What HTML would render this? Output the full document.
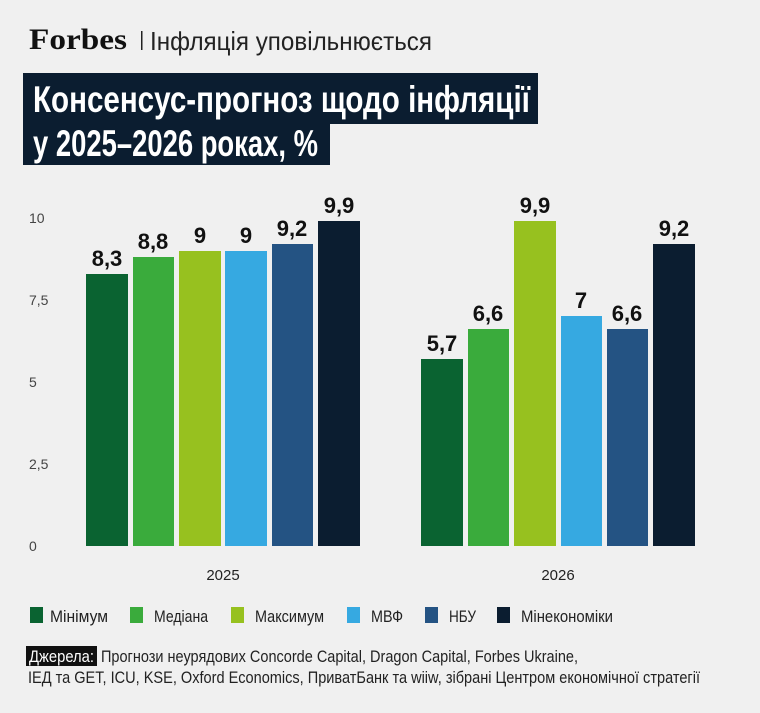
<!DOCTYPE html>
<html><head><meta charset="utf-8"><style>
body{margin:0;background:#f0f0f0;}
svg text{font-family:"Liberation Sans Narrow","Liberation Sans",sans-serif;}
</style></head><body>
<svg width="760" height="708" viewBox="0 0 760 708" xmlns="http://www.w3.org/2000/svg">
<rect width="760" height="708" fill="#f0f0f0"/>
<text x="29" y="49" style="font-family:'Liberation Serif',serif" font-weight="bold" font-size="30" fill="#111" textLength="98" lengthAdjust="spacingAndGlyphs">Forbes</text>
<rect x="141" y="31" width="1.5" height="19" fill="#222"/>
<text x="150" y="50" font-size="26" fill="#222" textLength="282" lengthAdjust="spacingAndGlyphs">Інфляція уповільнюється</text>
<rect x="23" y="73" width="515" height="51" fill="#0b1d30"/>
<rect x="23" y="120" width="307" height="45" fill="#0b1d30"/>
<text x="33" y="112" font-size="37" font-weight="bold" fill="#fff" textLength="497" lengthAdjust="spacingAndGlyphs">Консенсус-прогноз щодо інфляції</text>
<text x="33" y="156" font-size="37" font-weight="bold" fill="#fff" textLength="285" lengthAdjust="spacingAndGlyphs">у 2025–2026 роках, %</text>
<g font-size="14" fill="#444" text-anchor="start">
<text x="29" y="223">10</text><text x="29" y="387">5</text><text x="29" y="305">7,5</text><text x="29" y="469">2,5</text><text x="29" y="551">0</text>
</g>
<g>
<rect x="86" y="274" width="42" height="272" fill="#0a6331"/>
<rect x="133" y="257" width="41" height="289" fill="#3aab3c"/>
<rect x="179" y="251" width="42" height="295" fill="#97c11f"/>
<rect x="225" y="251" width="42" height="295" fill="#36a9e1"/>
<rect x="272" y="244" width="41" height="302" fill="#245383"/>
<rect x="318" y="221" width="42" height="325" fill="#0b1d30"/>
<rect x="421" y="359" width="42" height="187" fill="#0a6331"/>
<rect x="468" y="329" width="41" height="217" fill="#3aab3c"/>
<rect x="514" y="221" width="42" height="325" fill="#97c11f"/>
<rect x="561" y="316" width="41" height="230" fill="#36a9e1"/>
<rect x="607" y="329" width="41" height="217" fill="#245383"/>
<rect x="653" y="244" width="42" height="302" fill="#0b1d30"/>
</g>
<g font-size="22" font-weight="bold" fill="#111" text-anchor="middle">
<text x="107" y="266">8,3</text><text x="153" y="249">8,8</text><text x="200" y="243">9</text><text x="246" y="243">9</text><text x="292" y="236">9,2</text><text x="339" y="213">9,9</text>
<text x="442" y="351">5,7</text><text x="488" y="321">6,6</text><text x="535" y="213">9,9</text><text x="581" y="308">7</text><text x="627" y="321">6,6</text><text x="674" y="236">9,2</text>
</g>
<g font-size="15" fill="#222" text-anchor="middle">
<text x="223" y="580">2025</text><text x="558" y="580">2026</text>
</g>
<g font-size="17" fill="#222">
<rect x="30" y="607" width="13" height="16" fill="#0a6331"/><text x="50" y="622" textLength="58" lengthAdjust="spacingAndGlyphs">Мінімум</text>
<rect x="130" y="607" width="13" height="16" fill="#3aab3c"/><text x="154" y="622" textLength="54" lengthAdjust="spacingAndGlyphs">Медіана</text>
<rect x="231" y="607" width="13" height="16" fill="#97c11f"/><text x="255" y="622" textLength="69" lengthAdjust="spacingAndGlyphs">Максимум</text>
<rect x="347" y="607" width="13" height="16" fill="#36a9e1"/><text x="371" y="622" textLength="32" lengthAdjust="spacingAndGlyphs">МВФ</text>
<rect x="425" y="607" width="13" height="16" fill="#245383"/><text x="449" y="622" textLength="27" lengthAdjust="spacingAndGlyphs">НБУ</text>
<rect x="497" y="607" width="13" height="16" fill="#0b1d30"/><text x="521" y="622" textLength="92" lengthAdjust="spacingAndGlyphs">Мінекономіки</text>
</g>
<rect x="26" y="646" width="71" height="20" fill="#111"/>
<g font-size="17" fill="#222">
<text x="29" y="662" fill="#fff" textLength="65" lengthAdjust="spacingAndGlyphs">Джерела:</text>
<text x="101" y="662" textLength="477" lengthAdjust="spacingAndGlyphs">Прогнози неурядових Concorde Capital, Dragon Capital, Forbes Ukraine,</text>
<text x="28" y="683" textLength="672" lengthAdjust="spacingAndGlyphs">ІЕД та GET, ICU, KSE, Oxford Economics, ПриватБанк та wiiw, зібрані Центром економічної стратегії</text>
</g>
</svg>
</body></html>
